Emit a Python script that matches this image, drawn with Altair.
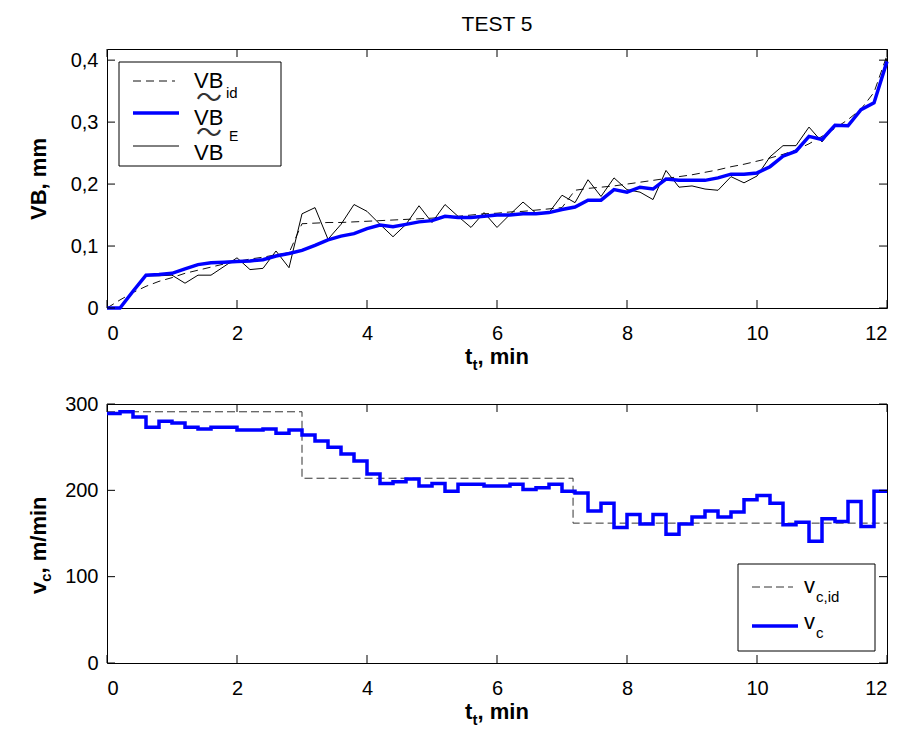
import altair as alt
import pandas as pd

FONT = "Liberation Sans"
W, H = 780, 259

# time grid (min), sampled every 0.2 min
t = [round(i * 0.2, 1) for i in range(61)]

# ideal flank wear VB_id (mm)
vb_id = [0.000, 0.013, 0.025, 0.035, 0.043, 0.049, 0.056, 0.061, 0.066, 0.071,
         0.075, 0.079, 0.082, 0.086, 0.089, 0.136, 0.137, 0.138, 0.138, 0.139,
         0.140, 0.141, 0.142, 0.143, 0.144, 0.145, 0.147, 0.148, 0.150, 0.152,
         0.153, 0.155, 0.156, 0.158, 0.160, 0.162, 0.190, 0.193, 0.195, 0.197,
         0.200, 0.203, 0.206, 0.209, 0.212, 0.215, 0.219, 0.223, 0.228, 0.232,
         0.237, 0.242, 0.248, 0.255, 0.265, 0.277, 0.290, 0.304, 0.321, 0.348,
         0.408]
# estimated flank wear (blue)
vb_est = [0.000, 0.000, 0.027, 0.053, 0.054, 0.056, 0.063, 0.070, 0.073, 0.074,
          0.075, 0.076, 0.078, 0.084, 0.088, 0.093, 0.101, 0.110, 0.116, 0.120,
          0.128, 0.134, 0.131, 0.135, 0.139, 0.141, 0.148, 0.146, 0.146, 0.148,
          0.150, 0.150, 0.152, 0.152, 0.154, 0.159, 0.163, 0.174, 0.174, 0.191,
          0.187, 0.195, 0.192, 0.208, 0.206, 0.206, 0.206, 0.210, 0.216, 0.216,
          0.218, 0.228, 0.245, 0.253, 0.277, 0.272, 0.295, 0.294, 0.320, 0.331,
          0.398]
# measured flank wear VB^E (thin black)
vb_meas = [0.000, 0.000, 0.026, 0.052, 0.052, 0.053, 0.040, 0.053, 0.053, 0.067,
           0.081, 0.062, 0.064, 0.092, 0.065, 0.152, 0.162, 0.111, 0.135, 0.167,
           0.156, 0.135, 0.115, 0.135, 0.165, 0.138, 0.167, 0.148, 0.130, 0.154,
           0.130, 0.151, 0.171, 0.153, 0.154, 0.182, 0.170, 0.207, 0.180, 0.210,
           0.191, 0.187, 0.175, 0.222, 0.195, 0.197, 0.192, 0.190, 0.212, 0.202,
           0.213, 0.244, 0.262, 0.262, 0.292, 0.268, 0.295, 0.294, 0.320, 0.331,
           0.403]
# cutting speed v_c (m/min), value held over each 0.2 min step
vc = [289, 291, 285, 273, 280, 278, 273, 271, 273, 273,
      270, 270, 271, 266, 270, 264, 257, 250, 242, 234,
      219, 208, 210, 213, 205, 208, 199, 207, 207, 205,
      205, 207, 201, 203, 207, 199, 197, 176, 185, 157,
      172, 161, 172, 149, 161, 169, 176, 169, 175, 189,
      194, 185, 160, 163, 141, 167, 164, 187, 158, 199,
      199]
# ideal cutting speed v_c,id
vc_id_t = [0.0, 3.0, 7.17, 12.0]
vc_id = [291, 214, 162, 162]

x_ticks = [0, 2, 4, 6, 8, 10, 12]
vb_ticks = [0, 0.1, 0.2, 0.3, 0.4]
vc_ticks = [0, 100, 200, 300]

top_df = pd.DataFrame({"t": t, "id": vb_id, "est": vb_est, "meas": vb_meas})
bot_df = pd.DataFrame({"t": t, "vc": vc})
vcid_df = pd.DataFrame({"t": vc_id_t, "vc": vc_id})
one = pd.DataFrame({"a": [0]})

xscale = alt.Scale(domain=[0, 12], nice=False, zero=False)
top_y = alt.Scale(domain=[0, 0.418], nice=False)
bot_y = alt.Scale(domain=[0, 300], nice=False)

xaxis = alt.Axis(values=x_ticks, title=None, labelPadding=15, format="d")
top_yaxis = alt.Axis(values=vb_ticks, title=None, labelPadding=9,
                     labelExpr="datum.value == 0 ? '0' : replace(format(datum.value, '.1f'), '.', ',')")
bot_yaxis = alt.Axis(values=vc_ticks, title=None, labelPadding=9, format="d")


def txt(s, x, y, size=22, weight="normal", angle=0, align="left",
        baseline="alphabetic", font=FONT, color="black"):
    return alt.Chart(one).mark_text(
        text=s, fontSize=size, fontWeight=weight, angle=angle, align=align,
        baseline=baseline, font=font, color=color
    ).encode(x=alt.value(x), y=alt.value(y))


def inward_ticks(yscale, yvals, tlen=8):
    xt = pd.DataFrame({"v": x_ticks})
    yt = pd.DataFrame({"v": yvals})
    r = []
    r.append(alt.Chart(xt).mark_rule(color="black", strokeWidth=1).encode(
        x=alt.X("v:Q", scale=xscale), y=alt.value(H), y2=alt.value(H - tlen)))
    r.append(alt.Chart(xt).mark_rule(color="black", strokeWidth=1).encode(
        x=alt.X("v:Q", scale=xscale), y=alt.value(0), y2=alt.value(tlen)))
    r.append(alt.Chart(yt).mark_rule(color="black", strokeWidth=1).encode(
        y=alt.Y("v:Q", scale=yscale), x=alt.value(0), x2=alt.value(tlen)))
    r.append(alt.Chart(yt).mark_rule(color="black", strokeWidth=1).encode(
        y=alt.Y("v:Q", scale=yscale), x=alt.value(W - tlen), x2=alt.value(W)))
    return r


def xtitle():
    return [
        txt("t", 358, 315, weight="bold"),
        txt("t", 365.5, 321, size=15, weight="bold"),
        txt(", min", 370.5, 315, weight="bold"),
    ]

# ---------------- top panel ----------------
base_top = alt.Chart(top_df).encode(
    x=alt.X("t:Q", scale=xscale, axis=xaxis))

l_id = base_top.mark_line(color="#111111", strokeWidth=1, strokeDash=[8, 5]).encode(
    y=alt.Y("id:Q", scale=top_y, axis=top_yaxis))
l_meas = base_top.mark_line(color="black", strokeWidth=1).encode(
    y=alt.Y("meas:Q", scale=top_y))
l_est = base_top.mark_line(color="#0000ff", strokeWidth=3.5).encode(
    y=alt.Y("est:Q", scale=top_y))

anchor = alt.Chart(one).mark_rule(color="white", strokeWidth=1).encode(
    x=alt.value(-98), x2=alt.value(-97), y=alt.value(-40), y2=alt.value(-40))

TILDE_FONT = "Noto Sans CJK JP"
top_legend = [
    alt.Chart(one).mark_rect(fill="white", stroke="black", strokeWidth=1).encode(
        x=alt.value(12), x2=alt.value(174), y=alt.value(13), y2=alt.value(117)),
    alt.Chart(one).mark_rule(color="#111111", strokeWidth=1, strokeDash=[8, 5]).encode(
        x=alt.value(26), x2=alt.value(68), y=alt.value(32), y2=alt.value(32)),
    alt.Chart(one).mark_rule(color="#0000ff", strokeWidth=3.5).encode(
        x=alt.value(26), x2=alt.value(72), y=alt.value(64), y2=alt.value(64)),
    alt.Chart(one).mark_rule(color="black", strokeWidth=1).encode(
        x=alt.value(26), x2=alt.value(72), y=alt.value(97), y2=alt.value(97)),
    txt("VB", 87, 39),
    txt("id", 119, 49, size=15),
    txt("VB", 87, 76),
    txt("〜", 102, 50, size=26, align="center", baseline="middle",
        font=TILDE_FONT, color="#333333"),
    txt("VB", 87, 111),
    txt("〜", 102, 85, size=26, align="center", baseline="middle",
        font=TILDE_FONT, color="#333333"),
    txt("E", 122, 92, size=14),
]

top = alt.layer(
    anchor, l_id, l_meas, l_est,
    *inward_ticks(top_y, vb_ticks),
    *top_legend,
    txt("TEST 5", W / 2, -18, size=21, align="center"),
    txt("VB, mm", -61, 130, weight="bold", angle=270, align="center"),
    *xtitle(),
).properties(width=W, height=H)

# ---------------- bottom panel ----------------
l_vcid = alt.Chart(vcid_df).mark_line(
    color="#333333", strokeWidth=1, strokeDash=[8, 4], interpolate="step-after").encode(
    x=alt.X("t:Q", scale=xscale, axis=xaxis),
    y=alt.Y("vc:Q", scale=bot_y, axis=bot_yaxis))
l_vc = alt.Chart(bot_df).mark_line(
    color="#0000ff", strokeWidth=3.5, interpolate="step-after").encode(
    x=alt.X("t:Q", scale=xscale),
    y=alt.Y("vc:Q", scale=bot_y))

bot_legend = [
    alt.Chart(one).mark_rect(fill="white", stroke="black", strokeWidth=1).encode(
        x=alt.value(631), x2=alt.value(768), y=alt.value(160), y2=alt.value(247)),
    alt.Chart(one).mark_rule(color="#333333", strokeWidth=1, strokeDash=[8, 4]).encode(
        x=alt.value(645), x2=alt.value(686), y=alt.value(183), y2=alt.value(183)),
    alt.Chart(one).mark_rule(color="#0000ff", strokeWidth=3.5).encode(
        x=alt.value(645), x2=alt.value(691), y=alt.value(222), y2=alt.value(222)),
    txt("v", 697, 189),
    txt("c,id", 709, 198, size=15),
    txt("v", 697, 225),
    txt("c", 709, 234, size=15),
]

bottom = alt.layer(
    l_vcid, l_vc,
    *inward_ticks(bot_y, vc_ticks),
    *bot_legend,
    txt("v", -61, 190, weight="bold", angle=270),
    txt("c", -56, 177.8, size=15, weight="bold", angle=270),
    txt(", m/min", -61, 169.5, weight="bold", angle=270),
    *xtitle(),
).properties(width=W, height=H)

chart = alt.vconcat(top, bottom, spacing=96, bounds="flush").properties(
    padding=0
).configure_view(
    stroke="black", strokeWidth=1
).configure_axis(
    grid=False, ticks=False, tickSize=0, domain=False,
    labelFont=FONT, labelFontSize=20, labelColor="black"
)

chart.save("out.html", embed_options={"renderer": "svg", "actions": False})
